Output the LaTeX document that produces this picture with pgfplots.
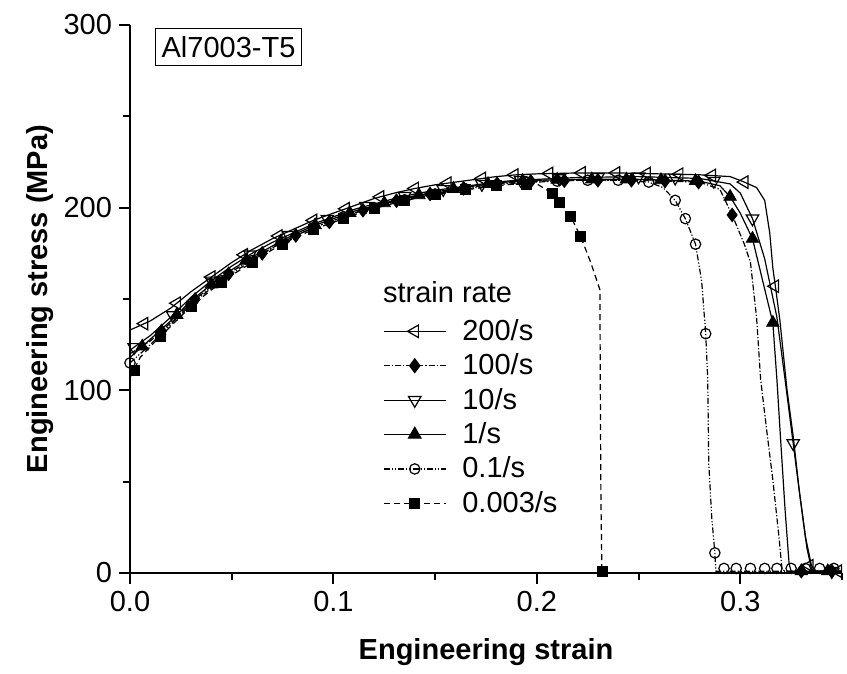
\documentclass[border=0pt]{standalone}
\usepackage{fontspec}
\setmainfont{Liberation Sans}
\usepackage{pgfplots}
\pgfplotsset{compat=1.18}
\begin{document}
\begin{tikzpicture}
\pgfplotsset{
 lw/.style={black, line width=0.6pt},
 m200/.style={mark=triangle, mark size=3.6pt, mark options={rotate=90, fill=white, solid, line width=0.6pt}},
 m100/.style={mark=diamond*, mark size=3.4pt, mark options={fill=black, solid}},
 m10/.style={mark=triangle, mark size=3.6pt, mark options={rotate=180, fill=white, solid, line width=0.6pt}},
 m1/.style={mark=triangle*, mark size=3.6pt, mark options={fill=black, solid}},
 m01/.style={mark=o, mark size=2.6pt, mark options={fill=white, solid, line width=0.6pt}},
 m0003/.style={mark=square*, mark size=2.5pt, mark options={fill=black, solid}},
}
\begin{axis}[
 scale only axis, width=356pt, height=274pt,
 xmin=0, xmax=0.35, ymin=0, ymax=300,
 axis x line=bottom, axis y line=left,
 axis line style={-, line width=1pt},
 tick align=outside, major tick length=5.5pt, minor tick length=3.5pt,
 every tick/.style={line width=1pt, black},
 xtick={0,0.1,0.2,0.3}, minor xtick={0.05,0.15,0.25,0.35},
 ytick={0,100,200,300}, minor ytick={50,150,250},
 xticklabels={0.0,0.1,0.2,0.3},
 yticklabels={0,100,200,300},
 ticklabel style={font=\fontsize{14.5}{17}\selectfont},
 /pgf/number format/assume math mode=true,
 xlabel={Engineering strain}, ylabel={Engineering stress (MPa)},
 label style={font=\bfseries\fontsize{14.5}{17}\selectfont},
 xlabel style={at={(axis description cs:0.5,-0.144)}, anchor=center},
 ylabel style={at={(axis description cs:-0.126,0.5)}, anchor=center},
 legend cell align=left,
 legend style={draw=none, fill=none, at={(axis description cs:0.355,0.471)}, anchor=north west,
   font=\fontsize{14.5}{17}\selectfont, row sep=1.2pt, inner sep=0pt,
   /tikz/every odd column/.append style={column sep=6pt}},
 legend image code/.code={\draw[mark repeat=2,mark phase=2,#1] plot coordinates {(0pt,0pt) (15.5pt,0pt) (31pt,0pt)};},
]
% ---------- 200/s ----------
\addplot[lw, no marks, forget plot] table {
0 133
0.01 138
0.02 145
0.03 154
0.04 162
0.05 170
0.06 177
0.07 183
0.08 188
0.09 193
0.10 197
0.11 201
0.12 205
0.13 208
0.14 210.5
0.15 212.5
0.16 214
0.17 215.5
0.18 217
0.19 218
0.20 218.5
0.22 219
0.24 219
0.26 218.5
0.28 218
0.295 217
0.302 214
0.308 211
0.312 204
0.3145 186
0.316 167
0.3175 155
0.3195 138
0.323 100
0.326 75
0.329 45
0.3327 14
0.335 2
0.337 1
0.35 1
};
\addplot[only marks, m200, forget plot] table {
0.007 136.5
0.023 147.7
0.04 162
0.056 174.2
0.073 184.5
0.09 193
0.106 199.4
0.123 205.9
0.14 210.5
0.156 213.4
0.173 216
0.189 217.9
0.206 218.7
0.222 219
0.239 219
0.254 218.7
0.27 218.3
0.286 217.6
0.302 214
0.317 157
0.334 4
0.348 1
};
% ---------- 100/s ----------
\addplot[lw, densely dashdotted, no marks, forget plot] table {
0 120
0.01 127
0.02 137
0.03 148
0.04 157
0.05 165
0.06 172
0.07 178
0.08 184
0.09 189
0.10 193
0.11 197
0.12 200.5
0.13 203.5
0.14 206
0.15 208
0.16 210
0.17 211.5
0.18 213
0.19 214
0.20 214.5
0.22 215
0.25 215
0.28 214
0.29 210
0.296 196
0.302 180
0.305 170
0.308 140
0.310 106
0.313 78
0.316 51
0.319 20
0.3205 2
0.322 1
0.35 1
};
\addplot[only marks, m100, forget plot] table {
0.0155 132.5
0.032 149.8
0.0485 163.8
0.065 175
0.0815 184.8
0.098 192.2
0.1145 198.6
0.131 203.8
0.1475 207.5
0.164 210.6
0.1805 213.1
0.197 214.4
0.2135 214.8
0.23 215
0.2465 215
0.263 214.6
0.2795 214
0.296 196
0.33 1
0.345 1
};
% ---------- 10/s ----------
\addplot[lw, no marks, forget plot] table {
0 122
0.01 130
0.02 140
0.03 151
0.04 160
0.05 168
0.06 175
0.07 181
0.08 186
0.09 191
0.10 195
0.11 199
0.12 202
0.13 205
0.14 207.5
0.15 209.5
0.16 211
0.17 212.5
0.18 214
0.19 215
0.20 215.5
0.22 216.5
0.25 217
0.28 216
0.295 213
0.300 208
0.306 194
0.312 172
0.318 140
0.322 106
0.326 71
0.329 45
0.332 20
0.335 4
0.337 1
0.35 1
};
\addplot[only marks, m10, forget plot] table {
0.002 123.6
0.021 141.1
0.04 160
0.059 174.3
0.078 185
0.097 193.8
0.116 200.8
0.135 206.3
0.154 210.1
0.173 212.9
0.192 215.1
0.211 216
0.23 216.7
0.25 217
0.268 216.4
0.287 214.6
0.306 194
0.326 71
0.345 1
};
% ---------- 1/s ----------
\addplot[lw, no marks, forget plot] table {
0 118
0.01 128
0.02 138
0.03 149
0.04 158
0.05 166
0.06 173
0.07 179
0.08 185
0.09 190
0.10 194
0.11 198
0.12 201
0.13 204
0.14 206.5
0.15 208.5
0.16 210.5
0.17 212
0.18 213.5
0.19 214.5
0.20 215
0.22 215.5
0.25 215.5
0.28 214.5
0.29 212
0.295 206
0.300 197
0.306 183
0.311 160
0.316 137
0.318 106
0.320 70
0.322 35
0.324 5
0.325 1
0.35 1
};
\addplot[only marks, m1, forget plot] table {
0.006 124
0.023 141.3
0.04 158
0.057 171
0.074 181.4
0.091 190.4
0.108 197.2
0.125 202.5
0.142 206.9
0.159 210.3
0.176 213
0.193 214.7
0.21 215.3
0.227 215.5
0.244 215.5
0.261 215.1
0.278 214.6
0.295 206
0.306 183
0.316 137
0.33 1
0.343 1
};
% ---------- 0.1/s ----------
\addplot[lw, densely dashdotdotted, no marks, forget plot] table {
0 115
0.01 125
0.02 136
0.03 147
0.04 156
0.05 164
0.06 171
0.07 178
0.08 184
0.09 189
0.10 193
0.11 197
0.12 200
0.13 203
0.14 205.5
0.15 207.5
0.16 209.5
0.17 211
0.18 212.5
0.19 213.5
0.20 214
0.22 215
0.24 215
0.255 214
0.262 211
0.268 204
0.273 194
0.278 180
0.281 160
0.283 131
0.284 106
0.2845 60
0.286 30
0.2875 11
0.288 1
0.35 1
};
\addplot[only marks, m01, forget plot] table {
0.0 115
0.015 130.5
0.03 147
0.045 160
0.06 171
0.075 181
0.09 189
0.105 195
0.12 200
0.135 204.3
0.15 207.5
0.165 210.3
0.18 212.5
0.195 213.8
0.21 214.5
0.225 215
0.24 215
0.255 214
0.268 204
0.273 194
0.278 180
0.283 131
0.2875 11
0.292 2.5
0.298 2.5
0.305 2.5
0.312 2.5
0.318 2.5
0.325 2.5
0.332 2.5
0.339 2.5
0.346 2.5
};
% ---------- 0.003/s ----------
\addplot[lw, densely dashed, no marks, forget plot] table {
0 107
0.005 118
0.01 124
0.02 135
0.03 146
0.04 155
0.05 163
0.06 170
0.07 177
0.08 183
0.09 188
0.10 192
0.11 196
0.12 199.5
0.13 202.5
0.14 205
0.15 207
0.16 209
0.17 210.5
0.18 212
0.19 213
0.20 213
0.2074 208
0.2113 203
0.2167 195
0.2216 184
0.2265 170
0.231 155
0.2312 100
0.2315 40
0.232 0
};
\addplot[only marks, m0003, forget plot] table {
0.002 111
0.015 129.5
0.03 146
0.045 159
0.06 170
0.075 180
0.09 188
0.105 194
0.12 199.5
0.135 203.8
0.15 207
0.165 209.8
0.18 212
0.195 213
0.2074 208
0.2113 203
0.2167 195
0.2216 184
0.232 1
};
% ---------- legend ----------
\addlegendimage{lw, m200}
\addlegendentry{200/s}
\addlegendimage{lw, densely dashdotted, m100}
\addlegendentry{100/s}
\addlegendimage{lw, m10}
\addlegendentry{10/s}
\addlegendimage{lw, m1}
\addlegendentry{1/s}
\addlegendimage{lw, densely dashdotdotted, m01}
\addlegendentry{0.1/s}
\addlegendimage{lw, densely dashed, m0003}
\addlegendentry{0.003/s}
\node[anchor=base west, font=\fontsize{14.5}{17}\selectfont, inner sep=0pt] at (axis description cs:0.355,0.4945) {strain rate};
\node[anchor=north west, draw, line width=0.7pt, inner xsep=3pt, inner ysep=4pt, text height=10.5pt, text depth=0pt, font=\fontsize{14.5}{17}\selectfont] at (axis description cs:0.035,0.995) {Al7003-T5};
\end{axis}
\pgfresetboundingbox
\path (-65pt,-50.5pt) rectangle (358.5pt,286.5pt);
\end{tikzpicture}
\end{document}
